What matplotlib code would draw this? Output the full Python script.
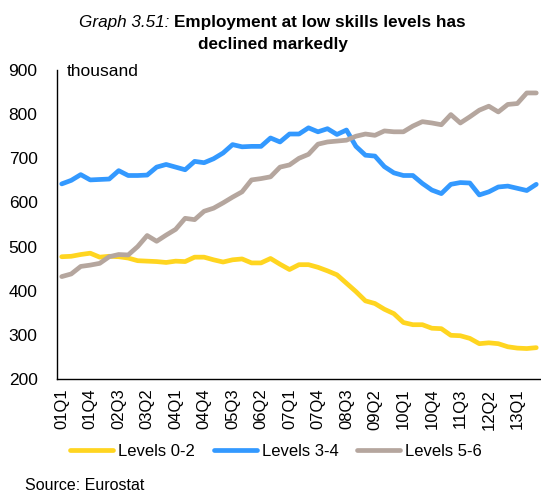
import matplotlib
matplotlib.use('Agg')
import matplotlib.pyplot as plt
import numpy as np

plt.rcParams['font.family'] = ['Liberation Sans', 'DejaVu Sans']

# quarterly employment, thousand persons, 01Q1 .. 13Q3
LEVELS_0_2 = [477, 478, 482, 485, 476, 478, 477, 474, 468, 467,
              466, 464, 467, 466, 476, 476, 470, 465, 470, 472,
              463, 463, 473, 460, 448, 459, 459, 453, 445, 436,
              417, 398, 377, 371, 358, 348, 328, 323, 323, 315,
              314, 299, 298, 292, 280, 282, 280, 273, 270, 269, 271]
LEVELS_3_4 = [642, 650, 663, 651, 652, 653, 672, 661, 661, 662,
              680, 686, 680, 674, 693, 690, 699, 712, 731, 726,
              727, 727, 746, 737, 755, 755, 769, 760, 767, 754,
              764, 727, 707, 705, 681, 667, 661, 661, 643, 628,
              620, 641, 645, 644, 617, 624, 635, 637, 632, 627, 641]
LEVELS_5_6 = [432, 438, 455, 458, 462, 477, 482, 481, 500, 525,
              512, 526, 539, 564, 561, 580, 587, 599, 612, 624,
              651, 654, 658, 680, 685, 700, 709, 732, 737, 739,
              741, 750, 755, 752, 762, 760, 760, 773, 783, 780,
              776, 799, 780, 794, 809, 818, 805, 822, 824, 848, 848]

QUARTERS = [f"{y:02d}Q{q}" for y in range(1, 14) for q in range(1, 5)][:len(LEVELS_0_2)]
Y_TICKS = [200, 300, 400, 500, 600, 700, 800, 900]

SERIES = [
    ('Levels 0-2', LEVELS_0_2, '#FFD520'),
    ('Levels 3-4', LEVELS_3_4, '#3399FF'),
    ('Levels 5-6', LEVELS_5_6, '#B5A69E'),
]

W, H = 541, 493
fig = plt.figure(figsize=(W / 100, H / 100), dpi=100)
ax = fig.add_axes([57 / W, 1 - 379 / H, 1 - 57 / W, (379 - 70) / H])

x = np.arange(len(QUARTERS))
handles = []
for name, vals, color in SERIES:
    h, = ax.plot(x, vals, color=color, lw=3.4, label=name,
                 solid_joinstyle='round', solid_capstyle='round')
    handles.append(h)

ax.set_xlim(-0.5, len(QUARTERS) - 0.5)
ax.set_ylim(200, 900)
ax.set_yticks(Y_TICKS)
ax.set_xticks(x[::3])
ax.set_xticklabels(QUARTERS[::3], rotation=90, fontsize=12)
ax.tick_params(axis='y', length=0, pad=14, labelsize=12.5)
ax.tick_params(axis='x', length=0, pad=7)
for s in ('top', 'right'):
    ax.spines[s].set_visible(False)
for s in ('left', 'bottom'):
    ax.spines[s].set_linewidth(1.0)
    ax.spines[s].set_color('black')

ax.text(67 / W, 1 - 71 / H, 'thousand', transform=fig.transFigure,
        fontsize=12.5, va='center', ha='left')

# title: italic label + bold text on the first line
fs = 12.3
r = fig.canvas.get_renderer()
t1 = fig.text(0, 1 - 22 / H, 'Graph 3.51: ', style='italic', fontsize=fs, va='center')
t2 = fig.text(0, 1 - 22 / H, 'Employment at low skills levels has', fontweight='bold',
              fontsize=fs, va='center')
w1 = t1.get_window_extent(r).width
w2 = t2.get_window_extent(r).width
x0 = 272.5 - (w1 + w2) / 2
t1.set_x(x0 / W)
t2.set_x((x0 + w1) / W)
fig.text(272.5 / W, 1 - 45 / H, 'declined markedly', fontweight='bold',
         fontsize=fs, ha='center', va='center')

fig.legend(handles=handles, loc='center', bbox_to_anchor=(276 / W, 1 - 451 / H),
           ncol=3, frameon=False, fontsize=12, handlelength=2.6,
           handletextpad=0.3, columnspacing=1.1, borderaxespad=0)

fig.text(25 / W, 1 - 485 / H, 'Source: Eurostat', fontsize=11.5, va='center', ha='left')

fig.savefig('out.png', dpi=100)
